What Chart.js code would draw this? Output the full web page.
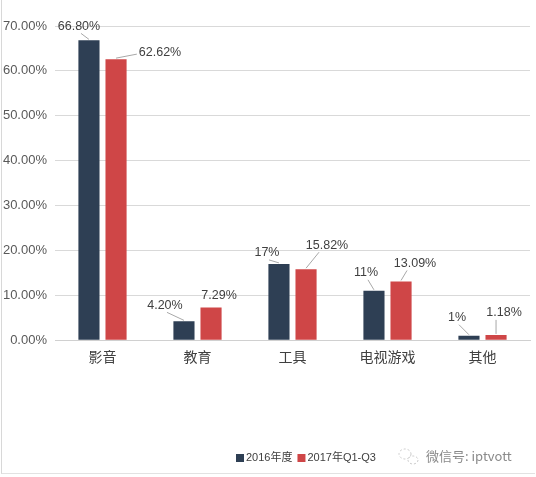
<!DOCTYPE html>
<html>
<head>
<meta charset="utf-8">
<script src="https://cdn.jsdelivr.net/npm/chart.js@4/dist/chart.umd.min.js"></script>
<style>
html,body{margin:0;padding:0;background:#fff;}
#wrap{position:relative;width:536px;height:477px;}
#frame{position:absolute;left:1px;top:0;width:533px;height:473px;border-left:1px solid #d8d8d8;border-bottom:1px solid #e2e2e2;pointer-events:none;}
</style>
</head>
<body>
<div id="wrap">
<canvas id="c" width="536" height="477"></canvas>
<div id="frame"></div>
</div>
<script>
const categories = ['影音', '教育', '工具', '电视游戏', '其他'];
const seriesNames = ['2016年度', '2017年Q1-Q3'];
const values2016 = [66.80, 4.20, 17, 11, 1];
const values2017 = [62.62, 7.29, 15.82, 13.09, 1.18];
const labels2016 = ['66.80%', '4.20%', '17%', '11%', '1%'];
const labels2017 = ['62.62%', '7.29%', '15.82%', '13.09%', '1.18%'];
const yTicks = [0, 10, 20, 30, 40, 50, 60, 70];
const watermark = '微信号: iptvott';

const colors = ['#2e3f54', '#cf4647'];
// style: label offsets relative to bar tops [dx, dy]
const labelOffsets = [
  [[-10, -14], [-19, -16], [-12, -11], [-8, -18], [-12, -18]],
  [[44, -7], [8, -12], [21, -24], [14, -18], [8, -22]]
];
const FONT = '"Liberation Sans", Arial, "Noto Sans CJK SC", sans-serif';

const labelPlugin = {
  id: 'barLabels',
  afterDatasetsDraw(chart) {
    const ctx = chart.ctx;
    const allLabels = [labels2016, labels2017];
    ctx.save();
    ctx.font = '12.5px ' + FONT;
    ctx.textAlign = 'center';
    ctx.textBaseline = 'middle';
    chart.data.datasets.forEach((ds, i) => {
      const meta = chart.getDatasetMeta(i);
      meta.data.forEach((el, j) => {
        const off = labelOffsets[i][j];
        const lx = el.x + off[0];
        const ly = el.y + off[1];
        const txt = allLabels[i][j];
        const w = ctx.measureText(txt).width;
        let sx, sy;
        if (i === 0) { sx = lx + 2; sy = ly + 7; }
        else if (off[0] > 30) { sx = lx - w / 2 - 2; sy = ly + 2; }
        else { sx = lx - 8; sy = ly + 7; }
        const d = Math.hypot(el.x - sx, el.y - sy);
        if (d > 5) {
          ctx.strokeStyle = '#a8a8a8';
          ctx.lineWidth = 1;
          ctx.beginPath();
          ctx.moveTo(sx, sy);
          ctx.lineTo(el.x, el.y - 1);
          ctx.stroke();
        }
        ctx.fillStyle = '#404040';
        ctx.fillText(txt, lx, ly);
      });
    });
    ctx.restore();
  }
};

const legendPlugin = {
  id: 'customLegend',
  afterDraw(chart) {
    const ctx = chart.ctx;
    ctx.save();
    ctx.font = '11px ' + FONT;
    ctx.textBaseline = 'middle';
    ctx.textAlign = 'left';
    let x = 236;
    const y = 458;
    chart.data.datasets.forEach((ds) => {
      ctx.fillStyle = ds.backgroundColor;
      ctx.fillRect(x, y - 4, 8, 8);
      x += 10;
      ctx.fillStyle = '#404040';
      ctx.fillText(ds.label, x, y);
      x += ctx.measureText(ds.label).width + 5;
    });
    ctx.strokeStyle = '#c8c8c8';
    ctx.lineWidth = 1;
    ctx.setLineDash([2, 2]);
    ctx.beginPath(); ctx.ellipse(405, 454, 6, 5, 0, 0, Math.PI * 2); ctx.stroke();
    ctx.beginPath(); ctx.ellipse(413, 460, 5, 4, 0, 0, Math.PI * 2); ctx.stroke();
    ctx.setLineDash([]);
    ctx.font = '13px "Noto Sans CJK SC", ' + FONT;
    ctx.fillStyle = '#8a8a8a';
    ctx.fillText(watermark, 426, 456);
    ctx.restore();
  }
};

new Chart(document.getElementById('c'), {
  type: 'bar',
  data: {
    labels: categories,
    datasets: [
      { label: seriesNames[0], data: values2016, backgroundColor: colors[0] },
      { label: seriesNames[1], data: values2017, backgroundColor: colors[1] }
    ]
  },
  options: {
    responsive: false,
    animation: false,
    devicePixelRatio: 1,
    layout: { padding: { top: 26, right: 6, bottom: 112, left: 0 } },
    datasets: { bar: { categoryPercentage: 0.57, barPercentage: 0.78 } },
    plugins: { legend: { display: false }, tooltip: { enabled: false } },
    scales: {
      x: {
        grid: { display: false },
        border: { color: '#d0d0d0' },
        ticks: { color: '#404040', font: { size: 14, family: '"Noto Sans CJK SC", sans-serif' }, padding: 0 }
      },
      y: {
        min: 0, max: 70,
        afterBuildTicks(scale) { scale.ticks = yTicks.map(v => ({ value: v })); },
        afterFit(scale) { scale.width = 55; },
        grid: { color: '#d9d9d9', drawTicks: false },
        border: { display: false },
        ticks: {
          color: '#595959',
          font: { size: 13, family: FONT },
          padding: 8,
          callback: v => v.toFixed(2) + '%'
        }
      }
    }
  },
  plugins: [labelPlugin, legendPlugin]
});
</script>
</body>
</html>
